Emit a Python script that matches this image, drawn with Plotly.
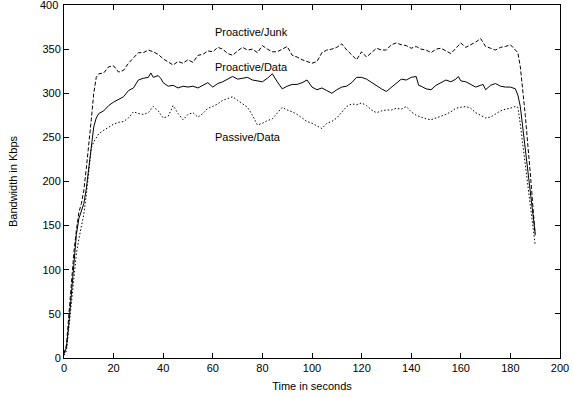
import plotly.graph_objects as go

# Proactive/Junk (dashed)
junk_t = [0,1,2,3,4,5,6,7,8,9,10,11,12,13,14,16,18,20,22,24,26,28,30,32,34,36,38,40,42,44,46,48,50,52,54,56,58,60,62,64,66,68,70,72,74,76,78,80,82,84,86,88,90,92,94,96,98,100,102,104,106,108,110,112,114,116,118,120,122,124,126,128,130,132,134,136,138,140,142,144,146,148,150,152,154,156,158,160,162,164,166,168,170,172,174,176,178,180,182,183,184,186,188,190]
junk_v = [5,15,50,90,120,145,165,175,190,215,240,270,300,318,322,323,330,331,324,326,334,340,346,346,349,347,344,339,335,332,336,334,338,335,343,344,348,347,352,350,345,343,348,352,349,350,346,354,350,347,347,350,353,343,341,338,336,334,336,346,349,350,352,356,349,343,338,347,341,346,351,349,349,355,357,355,354,351,353,350,349,346,350,351,348,345,351,357,352,355,358,362,353,351,349,352,353,355,349,346,330,275,210,139]

# Proactive/Data (solid)
pdata_t = [0,1,2,3,4,5,6,7,8,9,10,11,12,13,14,16,18,20,22,24,26,28,30,32,34,35,36,38,39,40,42,44,46,48,50,52,54,56,58,60,62,64,66,68,70,72,74,76,78,80,82,84,86,88,90,92,94,96,98,100,102,104,106,108,110,112,114,116,118,120,122,124,126,128,130,132,134,136,138,140,142,143,144,146,148,150,152,154,156,158,159,160,162,164,166,168,169,170,172,174,176,178,180,182,183,184,186,188,190]
pdata_v = [5,12,40,75,110,140,158,166,175,192,215,240,262,272,277,280,286,290,293,296,303,306,315,317,318,323,318,320,317,312,308,309,306,308,307,308,306,309,312,307,311,313,316,319,316,317,318,315,314,313,317,322,313,305,308,310,310,312,315,307,304,306,303,300,304,307,308,312,318,318,316,312,308,305,302,307,312,316,315,318,319,309,308,305,304,309,312,315,313,316,319,314,313,310,307,309,310,304,309,311,308,307,307,305,298,285,237,189,141]

# Passive/Data (dotted)
pass_t = [0,1,2,3,4,5,6,7,8,9,10,11,12,13,14,16,18,20,22,24,26,28,30,32,34,36,38,40,42,44,46,48,50,52,54,56,58,60,62,64,66,68,70,72,74,76,78,80,82,84,86,88,90,92,94,96,98,100,102,104,106,108,110,112,114,116,118,120,122,124,126,128,130,132,134,136,138,140,142,144,146,148,150,152,154,156,158,160,162,164,166,168,170,172,174,176,178,180,182,183,184,186,188,190]
pass_v = [3,8,35,65,95,118,135,150,163,185,215,238,245,250,254,258,262,265,267,268,272,279,277,276,278,285,280,272,274,286,277,270,276,278,273,277,283,285,288,292,294,296,292,288,284,275,264,266,269,271,277,284,281,279,276,272,268,266,263,260,266,268,272,278,285,288,287,289,286,281,278,280,281,281,283,282,285,279,275,273,271,270,272,274,276,279,283,284,285,283,278,275,272,273,277,280,282,283,285,284,265,220,175,128]

x_ticks = list(range(0, 201, 20))
y_ticks = list(range(0, 401, 50))
y_ticktext = [str(v) for v in y_ticks]

labels = ["Proactive/Junk", "Proactive/Data", "Passive/Data"]
label_x = [60, 60, 60]
label_y = [369, 330, 250]

FONT = "Liberation Sans, Arial, Helvetica, sans-serif"

fig = go.Figure()
fig.add_trace(go.Scatter(x=junk_t, y=junk_v, mode="lines", name=labels[0],
                         line=dict(color="black", width=1, dash="4px,2px")))
fig.add_trace(go.Scatter(x=pdata_t, y=pdata_v, mode="lines", name=labels[1],
                         line=dict(color="black", width=1)))
fig.add_trace(go.Scatter(x=pass_t, y=pass_v, mode="lines", name=labels[2],
                         line=dict(color="black", width=1, dash="1.5px,2px")))

for txt, lx, ly in zip(labels, label_x, label_y):
    fig.add_annotation(x=lx, y=ly, text=txt, showarrow=False, xanchor="left",
                       yanchor="middle", font=dict(size=11, color="black", family=FONT))

# top tick label (drawn as annotation so it is not dropped at the frame edge)
fig.add_annotation(x=0, xref="paper", y=y_ticks[-1], yref="y", text=y_ticktext[-1],
                   showarrow=False, xanchor="right", yanchor="middle", xshift=-5,
                   borderpad=0, font=dict(size=11, color="black", family=FONT))

axis_common = dict(showline=True, linecolor="black", linewidth=1, mirror="ticks",
                   ticks="inside", ticklen=5, tickcolor="black", showgrid=False,
                   zeroline=False, automargin=False,
                   tickfont=dict(size=11, color="black", family=FONT))

fig.update_xaxes(range=[0, 200], tickvals=x_ticks,
                 title=dict(text="Time in seconds", font=dict(size=11, color="black", family=FONT), standoff=9),
                 **axis_common)
fig.update_yaxes(range=[0, 400], tickvals=y_ticks, ticktext=y_ticktext[:-1] + [""],
                 title=dict(text="Bandwidth in Kbps", font=dict(size=11, color="black", family=FONT), standoff=22),
                 **axis_common)

fig.update_layout(width=573, height=398, showlegend=False,
                  margin=dict(l=64, r=13, t=5, b=40),
                  plot_bgcolor="white", paper_bgcolor="white",
                  font=dict(family=FONT, color="black"))

fig.write_html("out.html")
